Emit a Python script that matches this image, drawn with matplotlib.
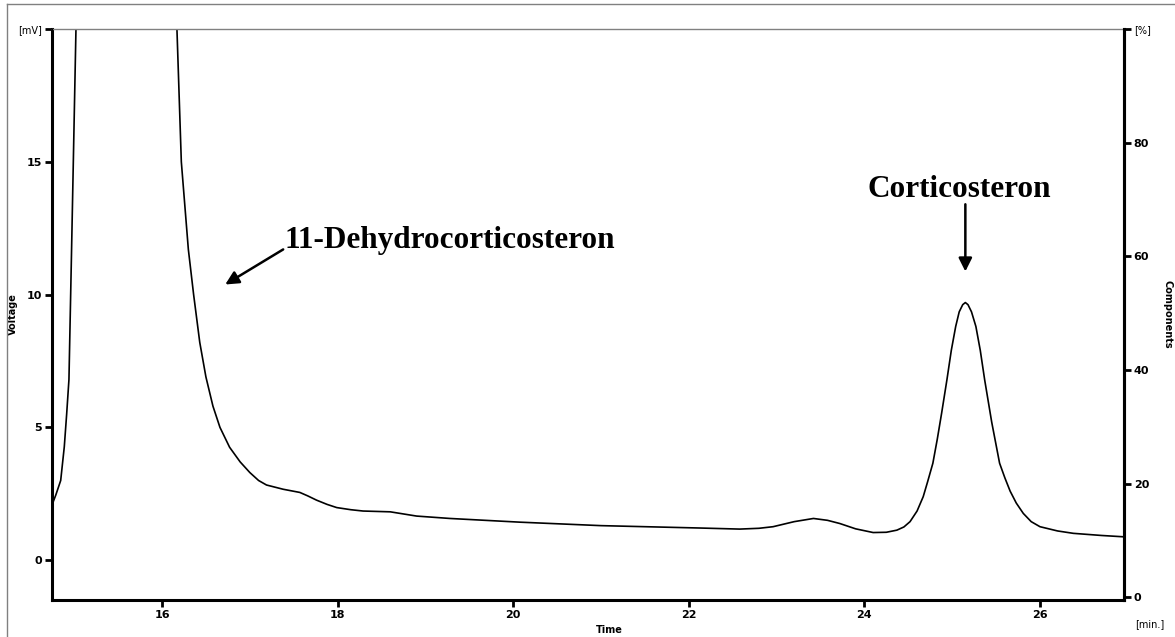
import matplotlib.pyplot as plt
from matplotlib.lines import Line2D

# chromatogram trace (time in min, voltage in mV)
time_min = [14.747, 14.79, 14.846, 14.887, 14.914, 14.940, 14.97, 15.02, 15.10,
            16.10, 16.17, 16.22, 16.30, 16.36, 16.43, 16.50, 16.58, 16.66,
            16.77, 16.89, 17.00, 17.10, 17.19, 17.38, 17.57, 17.66, 17.76,
            17.88, 17.99, 18.15, 18.29, 18.60, 18.75, 18.90, 19.28, 20.08,
            21.00, 22.13, 22.58, 22.80, 22.96, 23.20, 23.42, 23.58, 23.72,
            23.90, 24.10, 24.25, 24.37, 24.45, 24.52, 24.60, 24.67, 24.72,
            24.78, 24.83, 24.88, 24.94, 24.99, 25.04, 25.08, 25.12, 25.15,
            25.18, 25.22, 25.27, 25.32, 25.37, 25.45, 25.54, 25.60, 25.66,
            25.73, 25.81, 25.90, 26.00, 26.20, 26.38, 26.70, 26.95]
voltage = [2.08, 2.45, 3.0, 4.27, 5.5, 6.8, 11.7, 20.0, 35.0,
           35.0, 20.0, 15.0, 11.7, 10.0, 8.2, 6.9, 5.8, 5.0,
           4.25, 3.7, 3.3, 3.0, 2.83, 2.67, 2.55, 2.42, 2.26,
           2.1, 1.98, 1.9, 1.85, 1.82, 1.74, 1.66, 1.57, 1.43,
           1.30, 1.21, 1.17, 1.20, 1.26, 1.45, 1.57, 1.50, 1.38,
           1.18, 1.04, 1.05, 1.13, 1.25, 1.45, 1.85, 2.39, 2.95,
           3.65, 4.55, 5.54, 6.79, 7.9, 8.8, 9.35, 9.62, 9.7,
           9.62, 9.35, 8.8, 7.9, 6.79, 5.2, 3.65, 3.1, 2.6,
           2.15, 1.76, 1.45, 1.26, 1.10, 1.01, 0.93, 0.88]

x_ticks = [16, 18, 20, 22, 24, 26]
y_ticks = [0, 5, 10, 15, 20]
y_tick_labels = ["0", "5", "10", "15", "[mV]"]
pct_ticks = [0, 20, 40, 60, 80, 100]
pct_tick_labels = ["0", "20", "40", "60", "80", "[%]"]

fig = plt.figure(figsize=(11.75, 6.37), dpi=100)
ax = fig.add_axes([52/1175, 37/637, 1072/1175, 571/637])

ax.plot(time_min, voltage, color="black", lw=1.2)
ax.set_xlim(14.747, 26.957)
ax.set_ylim(-1.5, 20.0)

ax.set_xticks(x_ticks)
ax.set_yticks(y_ticks)
ax.set_yticklabels(y_tick_labels)
for lab in ax.get_xticklabels() + ax.get_yticklabels():
    lab.set_fontweight("bold")
    lab.set_fontsize(8)
ax.get_yticklabels()[-1].set_fontweight("normal")
ax.get_yticklabels()[-1].set_fontsize(7)
ax.tick_params(direction="out", length=5, width=2, pad=2)

for side in ["left", "bottom", "right"]:
    ax.spines[side].set_linewidth(2.2)
ax.spines["top"].set_color("gray")
ax.spines["top"].set_linewidth(1)

ax.set_xlabel("Time", fontsize=7, fontweight="bold", va="center")
ax.xaxis.set_label_coords(0.52, -0.053)
ax.set_ylabel("Voltage", fontsize=7, fontweight="bold", va="center", ha="center")
ax.yaxis.set_label_coords(-0.036, 0.50)

ax2 = ax.twinx()
ax2.set_ylim(-0.5, 100)
ax2.set_yticks(pct_ticks)
ax2.set_yticklabels(pct_tick_labels)
for lab in ax2.get_yticklabels():
    lab.set_fontweight("bold")
    lab.set_fontsize(8)
ax2.get_yticklabels()[-1].set_fontweight("normal")
ax2.get_yticklabels()[-1].set_fontsize(7)
ax2.tick_params(direction="out", length=5, width=2, pad=2)
ax2.spines["right"].set_linewidth(2.2)
ax2.spines["top"].set_visible(False)
ax2.set_ylabel("Components", fontsize=7, fontweight="bold", rotation=270,
               va="center", ha="center")
ax2.yaxis.set_label_coords(1.041, 0.50)

fig.text(1150/1175, 1 - 624/637, "[min.]", fontsize=7, ha="center", va="center")

# peak annotations
arrow = dict(arrowstyle="-|>", color="black", lw=1.8, mutation_scale=20,
             shrinkA=0, shrinkB=0)
ax.text(17.40, 11.77, "11-Dehydrocorticosteron", fontsize=22.5, fontweight="bold",
        family="Liberation Serif", ha="left", va="baseline")
ax.annotate("", xy=(16.72, 10.38), xytext=(17.38, 11.7), arrowprops=arrow)
ax.text(25.08, 13.66, "Corticosteron", fontsize=22.5, fontweight="bold",
        family="Liberation Serif", ha="center", va="baseline")
ax.annotate("", xy=(25.15, 10.87), xytext=(25.15, 13.4), arrowprops=arrow)

# outer frame lines
fig.add_artist(Line2D([7/1175, 7/1175], [0, 1 - 4/637], color="gray", lw=1))
fig.add_artist(Line2D([7/1175, 1], [1 - 4/637, 1 - 4/637], color="gray", lw=1))

fig.savefig("out.png", dpi=100)
